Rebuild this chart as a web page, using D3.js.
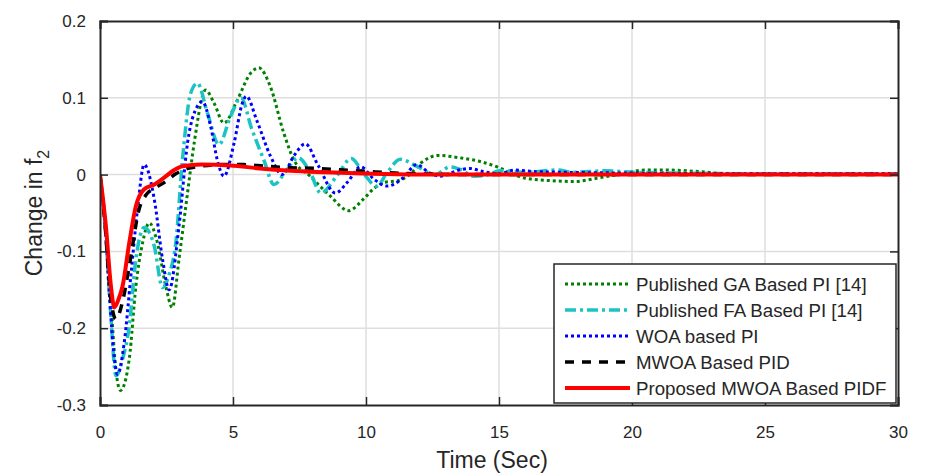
<!DOCTYPE html>
<html>
<head>
<meta charset="utf-8">
<script src="https://cdn.jsdelivr.net/npm/d3@7"></script>
<style>
  body { margin: 0; background: #fff; }
  svg text { font-family: "Liberation Sans", Arial, sans-serif; fill: #262626; }
</style>
</head>
<body>
<div id="chart"></div>
<script>
// Sample data
const gaTime = [0, 0.2, 0.4, 0.6, 0.77, 1.1, 1.35, 1.6, 1.85, 2.16, 2.47, 2.72, 2.97, 3.29, 3.54, 3.97, 4.29, 4.66, 5.16, 5.66, 5.97, 6.4, 6.91, 7.29, 7.9, 8.66, 9.35, 9.9, 10.3, 10.7, 11.2, 11.6, 12.1, 12.7, 13.5, 14.3, 15.0, 15.5, 15.9, 17.0, 17.8, 18.8, 19.6, 20.5, 21.2, 22.5, 23.5, 25, 30];
const gaVal  = [0, -0.06, -0.16, -0.255, -0.281, -0.24, -0.145, -0.089, -0.063, -0.089, -0.145, -0.173, -0.11, -0.024, 0.041, 0.11, 0.093, 0.067, 0.097, 0.132, 0.139, 0.115, 0.054, 0.019, -0.002, -0.028, -0.047, -0.032, -0.018, -0.01, -0.008, -0.001, 0.016, 0.025, 0.022, 0.017, 0.009, 0.001, -0.004, -0.008, -0.009, -0.004, 0.001, 0.006, 0.006, 0.004, 0.001, 0, 0];

const faTime = [0, 0.2, 0.4, 0.6, 0.85, 1.1, 1.35, 1.66, 2.04, 2.35, 2.6, 2.85, 3.1, 3.41, 3.66, 4.04, 4.47, 4.91, 5.3, 5.7, 6.16, 6.54, 7.0, 7.45, 7.9, 8.3, 8.9, 9.45, 9.9, 10.4, 10.8, 11.29, 11.9, 12.6, 13.16, 13.6, 14.04, 14.5, 15.04, 16.0, 17.16, 17.8, 19.0, 20, 22, 25, 30];
const faVal  = [0, -0.07, -0.18, -0.262, -0.24, -0.197, -0.11, -0.069, -0.093, -0.147, -0.13, -0.089, 0.019, 0.106, 0.119, 0.08, 0.039, 0.076, 0.1, 0.06, 0.019, -0.013, 0.005, 0.022, 0.003, -0.024, -0.002, 0.021, 0.002, -0.015, 0.003, 0.02, 0.011, 0, 0.01, 0.006, -0.002, -0.001, 0.005, 0.003, 0.006, 0.003, 0.005, 0.003, 0.002, 0.001, 0.001];

const woaTime = [0, 0.2, 0.35, 0.54, 0.66, 0.91, 1.16, 1.41, 1.66, 2.04, 2.35, 2.6, 2.97, 3.29, 3.66, 3.85, 4.16, 4.41, 4.66, 5.04, 5.35, 5.5, 5.9, 6.41, 6.85, 7.3, 7.72, 8.2, 8.85, 9.3, 9.8, 10.3, 10.8, 11.4, 11.9, 12.4, 12.8, 13.5, 13.9, 14.4, 15.0, 15.6, 16.3, 17.5, 20, 25, 30];
const woaVal  = [0, -0.07, -0.154, -0.24, -0.26, -0.219, -0.132, -0.045, 0.013, -0.032, -0.11, -0.15, -0.067, 0.041, 0.089, 0.095, 0.063, 0.019, -0.002, 0.041, 0.093, 0.102, 0.07, 0.024, 0.0, 0.025, 0.04, 0.012, -0.024, -0.01, 0.01, -0.006, -0.015, -0.004, 0.013, 0.002, -0.002, 0.006, 0.008, 0.004, 0.001, 0.006, 0.004, 0.003, 0.002, 0.001, 0.001];

const pidTime = [0, 0.2, 0.4, 0.6, 0.85, 1.1, 1.47, 1.72, 2.1, 2.47, 2.85, 3.3, 3.8, 4.5, 5.4, 6.2, 7.16, 8.16, 9.16, 10.1, 11.1, 12.1, 14, 30];
const pidVal  = [0, -0.07, -0.16, -0.188, -0.165, -0.119, -0.045, -0.027, -0.017, -0.009, 0.001, 0.008, 0.011, 0.013, 0.013, 0.011, 0.009, 0.008, 0.006, 0.004, 0.002, 0.001, 0, 0];

const pidfTime = [0, 0.22, 0.41, 0.54, 0.7, 0.85, 1.1, 1.35, 1.66, 2.04, 2.41, 2.79, 3.1, 3.8, 4.9, 6, 7.16, 8.5, 10.16, 12, 30];
const pidfVal  = [0, -0.067, -0.145, -0.173, -0.162, -0.145, -0.089, -0.041, -0.019, -0.013, -0.004, 0.006, 0.011, 0.013, 0.012, 0.008, 0.005, 0.003, 0.001, 0, 0];

const seriesNames = ["Published GA Based PI [14]", "Published FA Based PI [14]", "WOA based PI", "MWOA Based PID", "Proposed MWOA Based PIDF"];
const xTicks = [0, 5, 10, 15, 20, 25, 30];
const yTicks = [-0.3, -0.2, -0.1, 0, 0.1, 0.2];

const series = [
  { name: seriesNames[0], t: gaTime, v: gaVal, color: "#008000", width: 3, dash: "3,3" },
  { name: seriesNames[1], t: faTime, v: faVal, color: "#1cc3c3", width: 3.5, dash: "11,4,3,4" },
  { name: seriesNames[2], t: woaTime, v: woaVal, color: "#0000ff", width: 3, dash: "3,3" },
  { name: seriesNames[3], t: pidTime, v: pidVal, color: "#000000", width: 3.5, dash: "9,8" },
  { name: seriesNames[4], t: pidfTime, v: pidfVal, color: "#ff0000", width: 4, dash: null }
];

// Dimensions
const width = 926, height = 474;
const plot = { left: 100, right: 898, top: 21, bottom: 405 };

const svg = d3.select("#chart").append("svg")
  .attr("width", width)
  .attr("height", height);

const x = d3.scaleLinear().domain([0, 30]).range([plot.left, plot.right]);
const y = d3.scaleLinear().domain([-0.3, 0.2]).range([plot.bottom, plot.top]);

// Grid
svg.append("g").selectAll("line")
  .data(xTicks.slice(1, -1))
  .enter().append("line")
  .attr("x1", d => x(d)).attr("x2", d => x(d))
  .attr("y1", plot.top).attr("y2", plot.bottom)
  .attr("stroke", "#dedede").attr("stroke-width", 1.5);

svg.append("g").selectAll("line")
  .data(yTicks.slice(1, -1))
  .enter().append("line")
  .attr("x1", plot.left).attr("x2", plot.right)
  .attr("y1", d => y(d)).attr("y2", d => y(d))
  .attr("stroke", "#dedede").attr("stroke-width", 1.5);

// Lines
const line = d3.line()
  .x(d => x(d[0]))
  .y(d => y(d[1]))
  .curve(d3.curveMonotoneX);

svg.append("clipPath").attr("id", "clip")
  .append("rect")
  .attr("x", plot.left).attr("y", plot.top)
  .attr("width", plot.right - plot.left).attr("height", plot.bottom - plot.top);

series.forEach(s => {
  svg.append("path")
    .datum(s.t.map((t, i) => [t, s.v[i]]))
    .attr("clip-path", "url(#clip)")
    .attr("d", line)
    .attr("fill", "none")
    .attr("stroke", s.color)
    .attr("stroke-width", s.width)
    .attr("stroke-dasharray", s.dash);
});

// Axes (box with inward ticks)
const tickLen = 8;
const axisColor = "#262626";
const font = "Liberation Sans, Arial, sans-serif";

svg.append("g")
  .attr("transform", `translate(0,${plot.bottom})`)
  .call(d3.axisBottom(x).tickValues(xTicks).tickSize(-tickLen).tickPadding(21).tickFormat(d3.format("d")))
  .call(g => g.select(".domain").attr("stroke", axisColor).attr("stroke-width", 2))
  .call(g => g.selectAll(".tick line").attr("stroke", axisColor).attr("stroke-width", 1.5))
  .call(g => g.selectAll("text").attr("font-size", 17).attr("fill", axisColor).attr("font-family", font));

svg.append("g")
  .attr("transform", `translate(0,${plot.top})`)
  .call(d3.axisTop(x).tickValues(xTicks).tickSize(-tickLen).tickFormat(""))
  .call(g => g.select(".domain").attr("stroke", axisColor).attr("stroke-width", 2))
  .call(g => g.selectAll(".tick line").attr("stroke", axisColor).attr("stroke-width", 1.5));

svg.append("g")
  .attr("transform", `translate(${plot.left},0)`)
  .call(d3.axisLeft(y).tickValues(yTicks).tickSize(-tickLen).tickPadding(14).tickFormat(d => d === 0 ? "0" : d3.format(".1f")(d).replace("−", "-")))
  .call(g => g.select(".domain").attr("stroke", axisColor).attr("stroke-width", 2))
  .call(g => g.selectAll(".tick line").attr("stroke", axisColor).attr("stroke-width", 1.5))
  .call(g => g.selectAll("text").attr("font-size", 17).attr("fill", axisColor).attr("font-family", font));

svg.append("g")
  .attr("transform", `translate(${plot.right},0)`)
  .call(d3.axisRight(y).tickValues(yTicks).tickSize(-tickLen).tickFormat(""))
  .call(g => g.select(".domain").attr("stroke", axisColor).attr("stroke-width", 2))
  .call(g => g.selectAll(".tick line").attr("stroke", axisColor).attr("stroke-width", 1.5));

// Axis titles
svg.append("text")
  .attr("x", 492)
  .attr("y", 468)
  .attr("text-anchor", "middle")
  .attr("font-size", 23)
  .text("Time (Sec)");

const yLabel = svg.append("text")
  .attr("transform", `translate(42,${(plot.top + plot.bottom) / 2}) rotate(-90)`)
  .attr("text-anchor", "middle")
  .attr("font-size", 23);
yLabel.append("tspan").text("Change in f");
yLabel.append("tspan").attr("dy", 7).attr("font-size", 16).text("2");

// Legend
const legend = { left: 554, top: 264, right: 896, bottom: 403 };
svg.append("rect")
  .attr("x", legend.left).attr("y", legend.top)
  .attr("width", legend.right - legend.left).attr("height", legend.bottom - legend.top)
  .attr("fill", "#fff").attr("stroke", axisColor).attr("stroke-width", 1.5);

const rowY = [284, 310, 336, 362, 388];
series.forEach((s, i) => {
  svg.append("line")
    .attr("x1", 565).attr("x2", 630)
    .attr("y1", rowY[i]).attr("y2", rowY[i])
    .attr("stroke", s.color)
    .attr("stroke-width", s.width)
    .attr("stroke-dasharray", s.dash);
  svg.append("text")
    .attr("x", 636).attr("y", rowY[i])
    .attr("dy", "0.35em")
    .attr("font-size", 18.7)
    .attr("fill", "#000")
    .text(s.name);
});
</script>
</body>
</html>
